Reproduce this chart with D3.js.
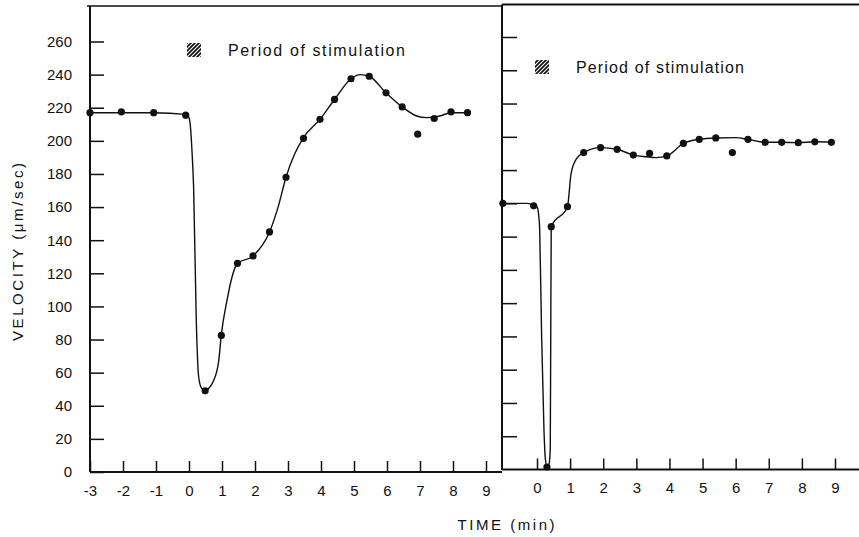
<!DOCTYPE html>
<html>
<head>
<meta charset="utf-8">
<script src="https://cdn.jsdelivr.net/npm/d3@7"></script>
<style>
  body { margin: 0; background: #fff; }
  svg text { font-family: "Liberation Sans", Arial, sans-serif; fill: #111; }
</style>
</head>
<body>
<div id="chart"></div>
<script>
// tick values
var yTicks = [0, 20, 40, 60, 80, 100, 120, 140, 160, 180, 200, 220, 240, 260];
var leftXTicks = [-3, -2, -1, 0, 1, 2, 3, 4, 5, 6, 7, 8, 9];
var rightXTicks = [0, 1, 2, 3, 4, 5, 6, 7, 8, 9];

// left panel - measured points (time in min, velocity in um/sec)
var leftTime = [-3, -2.05, -1.07, -0.1, 0.49, 0.98, 1.47, 1.94, 2.44, 2.94, 3.47, 3.97, 4.41, 4.91, 5.46, 5.97, 6.46, 6.93, 7.43, 7.94, 8.44];
var leftVelocity = [217, 217.5, 217, 215.5, 49, 82.5, 126, 130.5, 145, 178, 201.5, 213, 225, 237.5, 239, 229, 220.5, 204, 213.5, 217.5, 217];

// left panel - fitted curve
var leftCurveTime = [-3, -2.05, -1.07, -0.1, 0.0, 0.05, 0.09, 0.14, 0.22, 0.29, 0.37, 0.49, 0.62, 0.74, 0.9, 0.98, 1.15, 1.3, 1.47, 1.94, 2.44, 2.7, 2.94, 3.2, 3.47, 3.97, 4.41, 4.91, 5.19, 5.46, 5.97, 6.46, 6.9, 7.2, 7.6, 7.94, 8.44];
var leftCurveVelocity = [217, 217, 217, 216, 214, 207, 194, 172, 92, 58, 51, 49, 51, 55, 67, 83, 103.5, 117.5, 126, 130.5, 145, 160, 178, 192, 202, 213, 225, 237.5, 240, 239, 229, 220.5, 215, 214, 215, 217, 217];

// right panel - measured points
var rightTime = [-1.03, -0.1, 0.3, 0.43, 0.92, 1.41, 1.92, 2.42, 2.91, 3.4, 3.92, 4.42, 4.9, 5.4, 5.9, 6.37, 6.89, 7.39, 7.89, 8.39, 8.89];
var rightVelocity = [160, 158.5, 1.5, 146, 158, 190.5, 193.5, 192.5, 189, 190, 188.5, 196, 198.5, 199.3, 190.5, 198.5, 196.7, 196.7, 196.5, 197, 196.7];

// right panel - fitted curve
var rightCurveTime = [-1.03, -0.3, -0.1, 0.0, 0.05, 0.08, 0.14, 0.21, 0.25, 0.3, 0.36, 0.4, 0.415, 0.43, 0.92, 1.03, 1.2, 1.41, 1.92, 2.42, 2.91, 3.3, 3.6, 3.92, 4.42, 4.9, 5.4, 6.0, 6.37, 6.89, 7.39, 7.89, 8.39, 8.89];
var rightCurveVelocity = [160, 160, 159, 158, 153, 145, 80, 24, 7, 2, 3, 12, 80, 146, 158, 178, 187, 190.5, 193.5, 192.5, 189, 188, 187.5, 188.5, 196, 198.5, 199.3, 199.5, 198.5, 196.7, 196.7, 196.5, 197, 196.7];

var width = 859, height = 537;

var svg = d3.select("#chart").append("svg")
    .attr("width", width)
    .attr("height", height);

svg.append("rect").attr("width", width).attr("height", height).attr("fill", "#fff");

// hatch pattern for the legend swatch
var pat = svg.append("defs").append("pattern")
    .attr("id", "hatch")
    .attr("patternUnits", "userSpaceOnUse")
    .attr("width", 4).attr("height", 4);
pat.append("rect").attr("width", 4).attr("height", 4).attr("fill", "#111");
pat.append("path")
    .attr("d", "M-1,1 l2,-2 M0,4 l4,-4 M3,5 l2,-2")
    .attr("stroke", "#fff").attr("stroke-width", 1.1);

// scales
var xLeft = d3.scaleLinear().domain([-3, 9]).range([90, 486]);
var yLeft = d3.scaleLinear().domain([0, 260]).range([472, 41.5]);
var xRight = d3.scaleLinear().domain([0, 9]).range([537, 835]);
var yRight = d3.scaleLinear().domain([0, 260]).range([469.5, 37]);

var leftAxisX = 90, rightAxisX = 502;

// frame lines
svg.append("line").attr("x1", 87).attr("x2", rightAxisX).attr("y1", 6).attr("y2", 6)
    .attr("stroke", "#111").attr("stroke-width", 1.6);
svg.append("line").attr("x1", rightAxisX).attr("x2", 859).attr("y1", 4.5).attr("y2", 4.5)
    .attr("stroke", "#111").attr("stroke-width", 1.8);
svg.append("line").attr("x1", leftAxisX).attr("x2", leftAxisX).attr("y1", 6).attr("y2", 472)
    .attr("stroke", "#111").attr("stroke-width", 2);
svg.append("line").attr("x1", rightAxisX).attr("x2", rightAxisX).attr("y1", 4.5).attr("y2", 470)
    .attr("stroke", "#111").attr("stroke-width", 2);
svg.append("line").attr("x1", leftAxisX).attr("x2", rightAxisX).attr("y1", 472).attr("y2", 472)
    .attr("stroke", "#111").attr("stroke-width", 2);
svg.append("line").attr("x1", rightAxisX).attr("x2", 859).attr("y1", 469.5).attr("y2", 469.5)
    .attr("stroke", "#111").attr("stroke-width", 2);

function styleAxis(g) {
    g.select(".domain").remove();
    g.selectAll(".tick line").attr("stroke", "#111").attr("stroke-width", 1.5);
    g.selectAll("text").attr("font-size", 15).attr("font-family", "Liberation Sans, Arial, sans-serif").attr("fill", "#111");
}

// plain hyphen for negatives, like the original
var plain = function(d) { return String(d); };

// left y axis, ticks pointing in
svg.append("g")
    .attr("transform", "translate(" + leftAxisX + ",0)")
    .call(d3.axisLeft(yLeft).tickValues(yTicks).tickSizeInner(-14).tickSizeOuter(0).tickPadding(18).tickFormat(plain))
    .call(styleAxis);

// right y axis, no labels
svg.append("g")
    .attr("transform", "translate(" + rightAxisX + ",0)")
    .call(d3.axisLeft(yRight).tickValues(yTicks.slice(1)).tickSizeInner(-15).tickSizeOuter(0).tickFormat(""))
    .call(styleAxis);

// x axes
svg.append("g")
    .attr("transform", "translate(0,472)")
    .call(d3.axisBottom(xLeft).tickValues(leftXTicks).tickSizeInner(-11).tickSizeOuter(0).tickPadding(13).tickFormat(plain))
    .call(styleAxis);

svg.append("g")
    .attr("transform", "translate(0,469.5)")
    .call(d3.axisBottom(xRight).tickValues(rightXTicks).tickSizeInner(-11).tickSizeOuter(0).tickPadding(13).tickFormat(plain))
    .call(styleAxis);

// curves
function drawPanel(x, y, ct, cv, pt, pv) {
    var line = d3.line()
        .x(function(d) { return x(d[0]); })
        .y(function(d) { return y(d[1]); })
        .curve(d3.curveMonotoneX);

    svg.append("path")
        .datum(d3.zip(ct, cv))
        .attr("d", line)
        .attr("fill", "none")
        .attr("stroke", "#111")
        .attr("stroke-width", 1.4);

    svg.append("g").selectAll("circle")
        .data(d3.zip(pt, pv))
        .enter().append("circle")
        .attr("cx", function(d) { return x(d[0]); })
        .attr("cy", function(d) { return y(d[1]); })
        .attr("r", 3.6)
        .attr("fill", "#111");
}

drawPanel(xLeft, yLeft, leftCurveTime, leftCurveVelocity, leftTime, leftVelocity);
drawPanel(xRight, yRight, rightCurveTime, rightCurveVelocity, rightTime, rightVelocity);

// legends
function legend(x, y, len) {
    svg.append("rect")
        .attr("x", x).attr("y", y - 13)
        .attr("width", 14).attr("height", 14)
        .attr("fill", "url(#hatch)");
    svg.append("text")
        .attr("x", x + 41).attr("y", y)
        .attr("font-size", 16)
        .attr("textLength", len)
        .attr("lengthAdjust", "spacing")
        .text("Period of stimulation");
}
legend(187, 56, 177);
legend(535, 73, 168);

// axis titles
svg.append("text")
    .attr("x", 506).attr("y", 530)
    .attr("text-anchor", "middle")
    .attr("font-size", 15)
    .attr("textLength", 97)
    .attr("lengthAdjust", "spacing")
    .text("TIME  (min)");

svg.append("text")
    .attr("transform", "translate(23,252) rotate(-90)")
    .attr("text-anchor", "middle")
    .attr("font-size", 15)
    .attr("textLength", 178)
    .attr("lengthAdjust", "spacing")
    .text("VELOCITY  (μm/sec)");
</script>
</body>
</html>
